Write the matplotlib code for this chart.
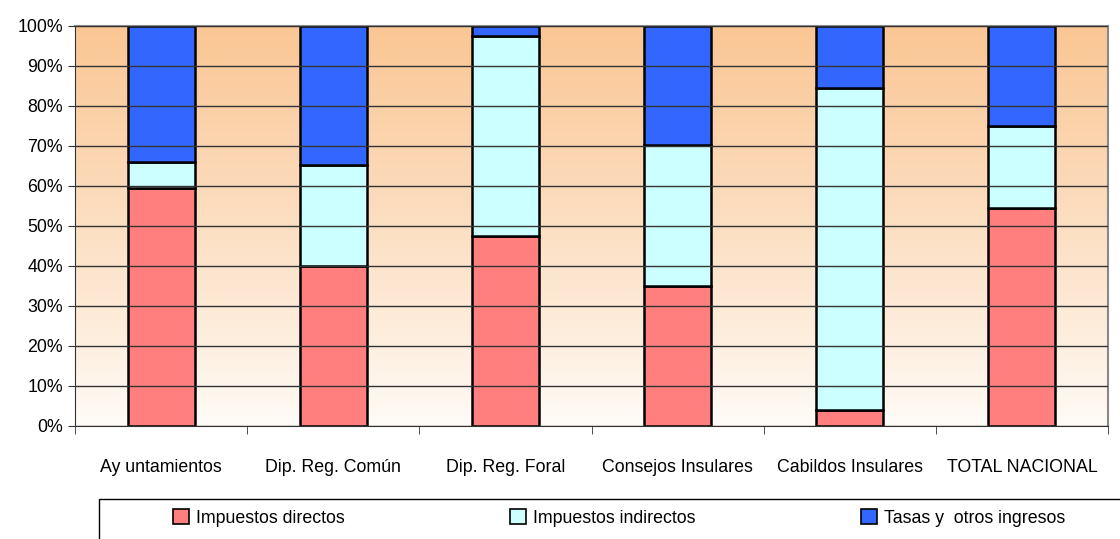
import numpy as np
import matplotlib.pyplot as plt
from matplotlib.patches import Rectangle
from matplotlib.ticker import PercentFormatter

plt.rcParams['font.family'] = ['Liberation Sans', 'DejaVu Sans']
tam = 12.8

categorias = ['Ay untamientos', 'Dip. Reg. Común', 'Dip. Reg. Foral',
              'Consejos Insulares', 'Cabildos Insulares', 'TOTAL NACIONAL']
directos = [59.5, 40.0, 47.5, 35.0, 4.0, 54.5]
indirectos = [6.5, 25.3, 50.0, 35.3, 80.5, 20.5]
tasas = [34.0, 34.7, 2.5, 29.7, 15.5, 25.0]
series = ['Impuestos directos', 'Impuestos indirectos', 'Tasas y  otros ingresos']
colores = ['#FF7F7F', '#CCFFFF', '#3366FF']

fig = plt.figure(figsize=(11.2, 5.39), dpi=100)
ax = fig.add_axes([75 / 1120, 1 - 426 / 539, 1033 / 1120, 400 / 539])

# fondo degradado
grad = np.linspace(0, 1, 256).reshape(-1, 1)
top = np.array([250, 198, 148]) / 255
bot = np.array([255, 252, 248]) / 255
img = bot + (top - bot) * grad[..., None] ** 0.9
ax.imshow(img, extent=[-0.5, len(categorias) - 0.5, 0, 100], origin='lower',
          aspect='auto', zorder=0)

x = np.arange(len(categorias))
ax.set_yticks(range(0, 101, 10))
ax.yaxis.grid(True, color='#333333', linewidth=1, zorder=1)
ax.set_axisbelow(False)

base = np.zeros(len(categorias))
for vals, col, lab in zip([directos, indirectos, tasas], colores, series):
    ax.bar(x, vals, bottom=base, width=0.39, color=col, edgecolor='black',
           linewidth=1.8, label=lab, zorder=2)
    base += np.array(vals)

ax.set_xlim(-0.5, len(categorias) - 0.5)
ax.set_ylim(0, 100)
ax.yaxis.set_major_formatter(PercentFormatter(decimals=0))
ax.set_xticks(x)
ax.set_xticklabels(categorias, fontsize=tam)
ax.set_xticks(np.arange(-0.5, len(categorias)), minor=True)
ax.tick_params(axis='x', which='major', length=0, pad=24)
ax.tick_params(axis='x', which='minor', length=6, color='#333333')
ax.tick_params(axis='y', length=5, labelsize=tam, color='#333333')
for s in ['top', 'right']:
    ax.spines[s].set_color('#888888')
    ax.spines[s].set_linewidth(1.5)
for s in ['left', 'bottom']:
    ax.spines[s].set_color('#333333')

# recuadro de la leyenda (cortado por abajo)
fig.patches.append(Rectangle((99 / 1120, -0.05), 1.1, 1 - 499 / 539 + 0.05,
                             transform=fig.transFigure, fill=False,
                             edgecolor='black', linewidth=1))
h, l = ax.get_legend_handles_labels()
leg = fig.legend(h, l, loc='center', bbox_to_anchor=(0.553, 1 - 518 / 539),
                 ncol=3, frameon=False, fontsize=tam, columnspacing=9.3,
                 handlelength=0.9, handleheight=0.9, handletextpad=0.4)
for p in leg.get_patches():
    p.set_linewidth(1.2)

fig.savefig('out.png', dpi=100)
